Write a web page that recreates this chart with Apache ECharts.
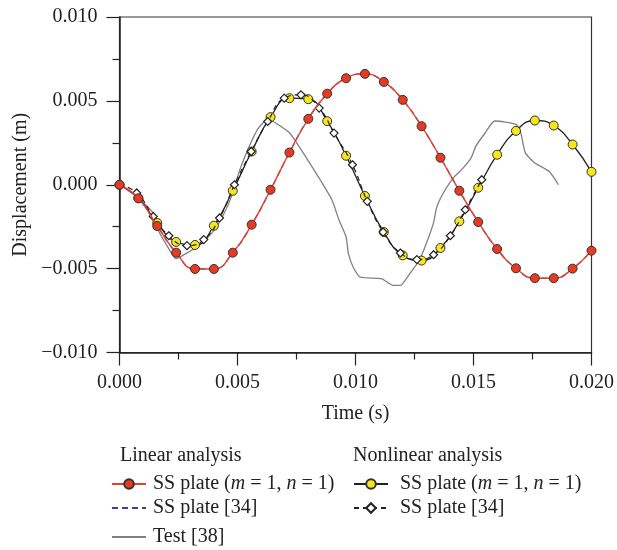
<!DOCTYPE html>
<html><head><meta charset="utf-8">
<script src="https://cdn.jsdelivr.net/npm/echarts@6/dist/echarts.min.js"></script>
<style>html,body{margin:0;padding:0;background:#fff}#c{width:617px;height:550px}</style>
</head><body><div id="c"></div>
<script>
// ---- data ----
const xTicks = [0, 0.005, 0.010, 0.015, 0.020];
const yTicks = [-0.010, -0.005, 0.000, 0.005, 0.010];

const linearT = [0,0.0008,0.0016,0.0024,0.0032,0.0040,0.0048,0.0056,0.0064,0.0072,0.0080,0.0088,0.0096,0.0104,0.0112,0.0120,0.0128,0.0136,0.0144,0.0152,0.0160,0.0168,0.0176,0.0184,0.0192,0.0200];
const linearSS = [0,-0.00081,-0.00246,-0.00405,-0.00502,-0.00502,-0.00405,-0.00238,-0.0003,0.00192,0.00393,0.00543,0.00635,0.00661,0.00613,0.00506,0.00349,0.00161,-0.00036,-0.00222,-0.00383,-0.00498,-0.00557,-0.00557,-0.005,-0.00393];
const linearRef34 = [0,-0.00081,-0.00246,-0.00405,-0.00502,-0.00502,-0.00405,-0.00238,-0.0003,0.00192,0.00393,0.00543,0.00635,0.00661,0.00613,0.00506,0.00349,0.00161,-0.00036,-0.00222,-0.00383,-0.00498,-0.00557,-0.00557,-0.005,-0.00393];

const nonlinearT = linearT;
const nonlinearSS = [0,-0.0008,-0.00228,-0.00341,-0.00359,-0.00244,-0.00036,0.00198,0.00403,0.00516,0.0051,0.00379,0.00173,-0.00067,-0.00282,-0.00421,-0.00452,-0.00377,-0.00218,-0.00018,0.00179,0.00321,0.00383,0.00353,0.0024,0.00077];

const nonlinRef34T = [0,0.00073,0.00143,0.00209,0.00286,0.00357,0.00424,0.00487,0.00558,0.00628,0.00698,0.00769,0.00846,0.00909,0.00987,0.0105,0.01117,0.0119,0.0126,0.01331,0.01402,0.01465,0.01535];
const nonlinRef34 = [0,-0.00049,-0.00189,-0.00304,-0.00363,-0.00327,-0.00198,0,0.00198,0.00377,0.00516,0.00536,0.00457,0.00308,0.00119,-0.00099,-0.00282,-0.00407,-0.00446,-0.00417,-0.00304,-0.00149,0.0003];

const testT = [0,0.0008,0.00143,0.00164,0.002,0.0024,0.0027,0.0033,0.0039,0.0044,0.0048,0.0051,0.0055,0.0059,0.0063,0.0066,0.0072,0.0076,0.0081,0.0085,0.0090,0.0093,0.0096,0.0097,0.0099,0.0102,0.0111,0.0116,0.0119,0.0123,0.0127,0.0130,0.0133,0.01345,0.0138,0.0142,0.0145,0.0149,0.0151,0.0155,0.0159,0.0168,0.0170,0.0172,0.0176,0.0182,0.0186];
const testY = [0,-0.0008,-0.0017,-0.0027,-0.0036,-0.0044,-0.0042,-0.0037,-0.0029,-0.0018,-0.0005,0.0009,0.0023,0.0034,0.0039,0.0037,0.0031,0.0023,0.0012,0.0003,-0.0009,-0.0021,-0.0031,-0.0041,-0.0049,-0.0055,-0.0056,-0.0060,-0.0060,-0.0053,-0.0045,-0.0035,-0.0023,-0.0013,-0.0003,0.0005,0.0009,0.0016,0.0023,0.0031,0.0038,0.0036,0.0031,0.0019,0.0013,0.0008,0.0];

const seriesLabels = {
  linSS: '{r|SS plate (}{i|m}{r| = 1, }{i|n}{r| = 1)}',
  linRef: '{r|SS plate [34]}',
  test: '{r|Test [38]}',
  nlSS: '{r|SS plate (}{i|m}{r| = 1, }{i|n}{r| = 1)}',
  nlRef: '{r|SS plate [34]}'
};
const groupTitles = ['Linear analysis', 'Nonlinear analysis'];

function zip(a, b) { return a.map((v, i) => [v, b[i]]); }

const FONT = '"Liberation Serif", "DejaVu Serif", serif';
const FS = 20;
const legendText = {
  fontFamily: FONT, fontSize: FS, color: '#222', lineHeight: 20,
  padding: [0, 0, 0, 2],
  rich: {
    r: { fontFamily: FONT, fontSize: FS, color: '#222' },
    i: { fontFamily: FONT, fontSize: FS, color: '#222', fontStyle: 'italic' }
  }
};
const legendBase = {
  orient: 'vertical', padding: 0, itemWidth: 34, itemHeight: 12, itemGap: 4,
  selectedMode: false, textStyle: legendText,
  formatter: n => seriesLabels[n]
};
const noSymbol = { color: 'rgba(0,0,0,0)', borderColor: 'rgba(0,0,0,0)', borderWidth: 0 };

const chart = echarts.init(document.getElementById('c'), null, { renderer: 'canvas' });
chart.setOption({
  animation: false,
  backgroundColor: '#fff',
  grid: { left: 119.5, right: 23.5, top: 17, bottom: 197.5, show: true, borderColor: '#333', borderWidth: 1.2, backgroundColor: 'transparent' },
  xAxis: {
    type: 'value', min: xTicks[0], max: xTicks[xTicks.length - 1], interval: 0.005,
    name: 'Time (s)', nameLocation: 'middle', nameGap: 51,
    nameTextStyle: { fontFamily: FONT, fontSize: FS, color: '#222' },
    axisLine: { onZero: false, lineStyle: { color: '#222', width: 1.5 } },
    axisTick: { show: true, inside: false, length: 13, lineStyle: { color: '#222', width: 1.2 } },
    minorTick: { show: true, splitNumber: 2, length: 7, lineStyle: { color: '#222', width: 1.2 } },
    splitLine: { show: false },
    axisLabel: { margin: 20, fontFamily: FONT, fontSize: FS, color: '#222', formatter: v => v.toFixed(3) }
  },
  yAxis: {
    type: 'value', min: yTicks[0], max: yTicks[yTicks.length - 1], interval: 0.005,
    name: 'Displacement (m)', nameLocation: 'middle', nameGap: 89,
    nameTextStyle: { fontFamily: FONT, fontSize: FS, color: '#222' },
    axisLine: { onZero: false, lineStyle: { color: '#222', width: 1.5 } },
    axisTick: { show: true, inside: false, length: 13, lineStyle: { color: '#222', width: 1.2 } },
    minorTick: { show: true, splitNumber: 2, length: 7, lineStyle: { color: '#222', width: 1.2 } },
    splitLine: { show: false },
    axisLabel: { margin: 22, fontFamily: FONT, fontSize: FS, color: '#222',
      formatter: v => (v < 0 ? '\u2212' : '') + Math.abs(v).toFixed(3) }
  },
  legend: [
    Object.assign({}, legendBase, { left: 111, top: 474, data: ['linSS', { name: 'linRef', itemStyle: noSymbol }] }),
    Object.assign({}, legendBase, { left: 111, top: 527, data: [{ name: 'test', itemStyle: noSymbol }] }),
    Object.assign({}, legendBase, { left: 353, top: 474, data: ['nlSS', 'nlRef'], textStyle: Object.assign({}, legendText, { padding: [0, 0, 0, 7] }) })
  ],
  graphic: [
    { type: 'text', left: 120, top: 446, style: { text: groupTitles[0], font: FS + 'px ' + FONT, fill: '#222' } },
    { type: 'text', left: 353, top: 446, style: { text: groupTitles[1], font: FS + 'px ' + FONT, fill: '#222' } }
  ],
  series: [
    { name: 'test', type: 'line', data: zip(testT, testY), smooth: 0.2, symbol: 'none', z: 2,
      lineStyle: { color: '#808080', width: 1.3 }, itemStyle: { color: '#808080' } },
    { name: 'nlSS', type: 'line', data: zip(nonlinearT, nonlinearSS), smooth: true, z: 3,
      symbol: 'circle', symbolSize: 9,
      lineStyle: { color: '#222', width: 1.3 },
      itemStyle: { color: '#f7e619', borderColor: '#333', borderWidth: 1 } },
    { name: 'nlRef', type: 'line', data: zip(nonlinRef34T, nonlinRef34), smooth: true, z: 4,
      symbol: 'diamond', symbolSize: 8,
      lineStyle: { color: '#222', width: 1.2, type: [5, 4] },
      itemStyle: { color: '#fff', borderColor: '#222', borderWidth: 1.2 } },
    { name: 'linRef', type: 'line', data: zip(linearT, linearRef34), smooth: true, z: 5,
      symbol: 'none',
      lineStyle: { color: '#3a3ab8', width: 1.3, type: [6, 4] },
      itemStyle: { color: '#3a3ab8' } },
    { name: 'linSS', type: 'line', data: zip(linearT, linearSS), smooth: true, z: 6,
      symbol: 'circle', symbolSize: 9,
      lineStyle: { color: '#e8402c', width: 1.4 },
      itemStyle: { color: '#e63a22', borderColor: '#333', borderWidth: 1 } }
  ]
});
</script></body></html>
